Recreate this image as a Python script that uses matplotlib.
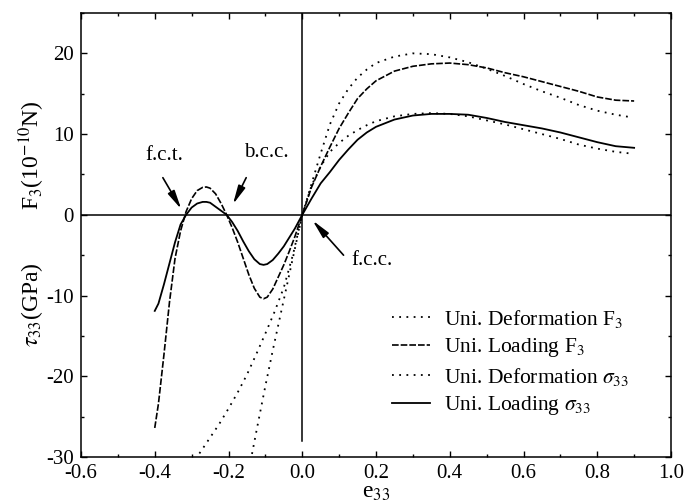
import matplotlib
matplotlib.use("Agg")
import matplotlib.pyplot as plt
from matplotlib.ticker import MultipleLocator

plt.rcParams['font.family'] = ['Liberation Serif', 'DejaVu Serif']
plt.rcParams['mathtext.fontset'] = 'stix'
plt.rcParams['axes.unicode_minus'] = False

# ---- data ----
# Uni. Deformation F3 (dotted, steep)
def_f3_x = [-0.140, -0.120, -0.100, -0.080, -0.060, -0.040, -0.020, 0.0,
            0.025, 0.05, 0.075, 0.10, 0.125, 0.15, 0.175, 0.20, 0.25, 0.30,
            0.35, 0.40, 0.45, 0.50, 0.55, 0.60, 0.65, 0.70, 0.75, 0.80, 0.85, 0.89]
def_f3_y = [-30.5, -25.8, -21.2, -16.8, -12.6, -8.4, -4.2, 0.0,
            3.8, 7.6, 11.2, 13.8, 15.6, 17.0, 18.0, 18.8, 19.6, 20.0,
            19.9, 19.5, 18.9, 18.1, 17.2, 16.2, 15.3, 14.5, 13.6, 12.9, 12.4, 12.1]

# Uni. Loading F3 (dashed)
load_f3_x = [-0.400, -0.390, -0.375, -0.360, -0.345, -0.330, -0.315, -0.300,
             -0.285, -0.270, -0.260, -0.250, -0.235, -0.220, -0.205, -0.190,
             -0.175, -0.160, -0.145, -0.130, -0.115, -0.105, -0.095, -0.080,
             -0.065, -0.050, -0.035, -0.020, 0.0,
             0.025, 0.05, 0.075, 0.10, 0.125, 0.15, 0.175, 0.20, 0.25, 0.30,
             0.35, 0.40, 0.45, 0.50, 0.55, 0.60, 0.65, 0.70, 0.75, 0.80, 0.85, 0.90]
load_f3_y = [-26.4, -23.4, -17.3, -10.8, -5.4, -2.0, 0.4, 2.0,
             3.0, 3.4, 3.45, 3.3, 2.6, 1.4, 0.0, -1.6,
             -3.4, -5.4, -7.4, -9.1, -10.2, -10.4, -10.2, -9.2,
             -7.7, -6.2, -4.5, -2.7, 0.0,
             3.4, 6.0, 8.4, 10.7, 12.6, 14.4, 15.6, 16.6, 17.8, 18.4,
             18.7, 18.8, 18.6, 18.2, 17.6, 17.1, 16.5, 15.9, 15.3, 14.6, 14.2, 14.1]

# Uni. Deformation sigma33 (dotted, shallow)
def_s_x = [-0.290, -0.275, -0.250, -0.225, -0.200, -0.175, -0.150, -0.125,
           -0.100, -0.075, -0.050, -0.025, 0.0,
           0.025, 0.05, 0.075, 0.10, 0.125, 0.15, 0.175, 0.20, 0.25, 0.30,
           0.35, 0.40, 0.45, 0.50, 0.55, 0.60, 0.65, 0.70, 0.75, 0.80, 0.85, 0.89]
def_s_y = [-30.3, -29.3, -27.6, -25.9, -24.0, -22.0, -19.8, -17.3,
           -14.7, -12.0, -9.0, -4.9, 0.0,
           3.6, 6.0, 7.8, 8.9, 9.8, 10.5, 11.1, 11.6, 12.2, 12.5,
           12.6, 12.5, 12.2, 11.7, 11.2, 10.6, 10.0, 9.4, 8.7, 8.2, 7.8, 7.6]

# Uni. Loading sigma33 (solid)
load_s_x = [-0.400, -0.390, -0.375, -0.360, -0.345, -0.330, -0.315, -0.300,
            -0.285, -0.270, -0.260, -0.250, -0.235, -0.220, -0.205, -0.190,
            -0.175, -0.160, -0.145, -0.130, -0.115, -0.105, -0.095, -0.080,
            -0.065, -0.050, -0.035, -0.020, 0.0,
            0.025, 0.05, 0.075, 0.10, 0.125, 0.15, 0.175, 0.20, 0.25, 0.30,
            0.35, 0.40, 0.45, 0.50, 0.55, 0.60, 0.65, 0.70, 0.75, 0.80, 0.85, 0.90]
load_s_y = [-11.9, -11.0, -8.6, -6.0, -3.4, -1.2, 0.0, 0.9,
            1.4, 1.6, 1.6, 1.5, 1.0, 0.5, 0.0, -0.9,
            -2.0, -3.3, -4.5, -5.5, -6.1, -6.2, -6.1, -5.6,
            -4.8, -3.9, -2.8, -1.7, 0.0,
            2.0, 3.9, 5.3, 6.8, 8.1, 9.3, 10.2, 10.9, 11.8, 12.3,
            12.5, 12.5, 12.4, 12.0, 11.5, 11.1, 10.7, 10.2, 9.6, 9.0, 8.5, 8.3]

labels = ["Uni. Deformation F$_3$", "Uni. Loading F$_3$",
          "Uni. Deformation $\\sigma_{33}$", "Uni. Loading $\\sigma_{33}$"]

# annotations: (text, text position, arrow tail, arrow head)
ann_text = ["f.c.t.", "b.c.c.", "f.c.c."]
ann_text_xy = [(-0.373, 7.4), (-0.098, 7.7), (0.19, -5.6)]
ann_tail = [(-0.378, 4.6), (-0.152, 4.6), (0.112, -5.0)]
ann_head = [(-0.328, 0.7), (-0.188, 1.3), (0.028, -0.7)]

fig = plt.figure(figsize=(6.85, 5.04), dpi=100)
ax = fig.add_axes([81/685, 47/504, 590/685, 444/504])

ax.axhline(0, color='k', lw=1.1, zorder=1)
ax.plot([0, 0], [-28, 25], color='k', lw=1.1, zorder=1)

ax.plot(def_f3_x, def_f3_y, color='k', lw=1.3, dashes=(1, 3), label=labels[0])
ax.plot(load_f3_x, load_f3_y, color='k', lw=1.2, dashes=(4, 1.2), label=labels[1])
ax.plot(def_s_x, def_s_y, color='k', lw=1.3, dashes=(1, 3), label=labels[2])
ax.plot(load_s_x, load_s_y, color='k', lw=1.3, label=labels[3])

ax.set_xlim(-0.6, 1.0)
ax.set_ylim(-30, 25)
ax.xaxis.set_major_locator(MultipleLocator(0.2))
ax.xaxis.set_minor_locator(MultipleLocator(0.1))
ax.yaxis.set_major_locator(MultipleLocator(10))
ax.yaxis.set_minor_locator(MultipleLocator(5))
ax.tick_params(which='both', direction='in', top=True, right=True,
               labelsize=15, width=1.0)
ax.tick_params(which='major', length=4)
ax.tick_params(which='minor', length=2)
ax.tick_params(axis='x', pad=5)
ax.tick_params(axis='y', pad=5)
for s in ax.spines.values():
    s.set_linewidth(1.1)

ax.set_xlabel("e$_{33}$", fontsize=17, labelpad=-1)

fig.text(32/685, 1 - 155/504, "F$_3$(10$^{-10}$N)", rotation=90,
         ha='center', va='center', fontsize=17)
fig.text(32/685, 1 - 305/504, "$\\tau_{33}$(GPa)", rotation=90,
         ha='center', va='center', fontsize=17)

for t, txy, tail, head in zip(ann_text, ann_text_xy, ann_tail, ann_head):
    ax.text(txy[0], txy[1], t, ha='center', va='center', fontsize=15)
    ax.annotate('', xy=head, xytext=tail,
                arrowprops=dict(arrowstyle='-|>,head_length=0.8,head_width=0.16',
                                color='k', lw=1.2, mutation_scale=14,
                                shrinkA=0, shrinkB=0))

ax.legend(loc='center left', bbox_to_anchor=(392/685, 1 - 362.5/504),
          bbox_transform=fig.transFigure, frameon=False, fontsize=15.5,
          handlelength=1.75, handletextpad=0.65, labelspacing=0.3,
          borderpad=0, borderaxespad=0)

fig.savefig("out.png", dpi=100)
